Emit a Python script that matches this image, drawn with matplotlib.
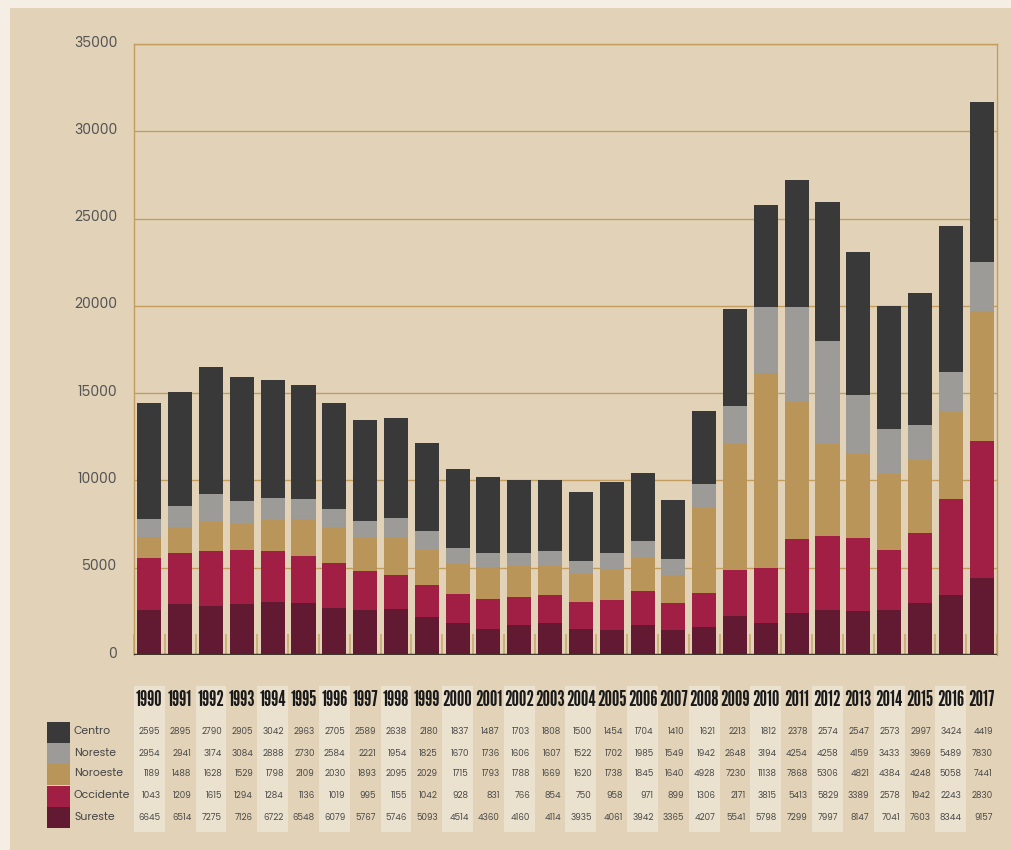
import numpy as np
import matplotlib
matplotlib.use("Agg")
import matplotlib.pyplot as plt
import matplotlib.transforms as mtransforms
from matplotlib.patches import Rectangle

# datos por año (filas tal como aparecen en la tabla)
years = list(range(1990, 2018))
centro = [2595, 2895, 2790, 2905, 3042, 2963, 2705, 2589, 2638, 2180, 1837, 1487, 1703, 1808,
          1500, 1454, 1704, 1410, 1621, 2213, 1812, 2378, 2574, 2547, 2573, 2997, 3424, 4419]
noreste = [2954, 2941, 3174, 3084, 2888, 2730, 2584, 2221, 1954, 1825, 1670, 1736, 1606, 1607,
           1522, 1702, 1985, 1549, 1942, 2648, 3194, 4254, 4258, 4159, 3433, 3969, 5489, 7830]
noroeste = [1189, 1488, 1628, 1529, 1798, 2109, 2030, 1893, 2095, 2029, 1715, 1793, 1788, 1669,
            1620, 1738, 1845, 1640, 4928, 7230, 11138, 7868, 5306, 4821, 4384, 4248, 5058, 7441]
occidente = [1043, 1209, 1615, 1294, 1284, 1136, 1019, 995, 1155, 1042, 928, 831, 766, 854,
             750, 958, 971, 899, 1306, 2171, 3815, 5413, 5829, 3389, 2578, 1942, 2243, 2830]
sureste = [6645, 6514, 7275, 7126, 6722, 6548, 6079, 5767, 5746, 5093, 4514, 4360, 4160, 4114,
           3935, 4061, 3942, 3365, 4207, 5541, 5798, 7299, 7997, 8147, 7041, 7603, 8344, 9157]

row_names = ["Centro", "Noreste", "Noroeste", "Occidente", "Sureste"]
rows = [centro, noreste, noroeste, occidente, sureste]
legend_colors = ["#3a3939", "#9d9b98", "#b9955a", "#a11f45", "#611a31"]
# en la gráfica las filas se apilan de abajo hacia arriba con los colores invertidos
stack_colors = legend_colors[::-1]

plt.rcParams['font.family'] = ['Poppins', 'Lato', 'DejaVu Sans']
year_font = ['League Gothic', 'Oswald', 'Barlow Condensed', 'DejaVu Sans']

W, H = 1012, 850
fig = plt.figure(figsize=(W / 100, H / 100), dpi=100)
fig.patch.set_facecolor("#f4eee4")

# fondo + tabla inferior, en coordenadas de píxel
tab = fig.add_axes([0, 0, 1, 1], zorder=0)
tab.set_xlim(0, W)
tab.set_ylim(H, 0)
tab.axis("off")
tab.add_patch(Rectangle((10, 8), W - 10, H - 8, facecolor="#e2d3b8", edgecolor="none"))

grid_c = "#c29d5f"
L, R, T, B = 134, 997, 44, 655
ax = fig.add_axes([L / W, 1 - B / H, (R - L) / W, (B - T) / H], zorder=1)
ax.set_facecolor("none")

x = np.arange(len(years))
bottom = np.zeros(len(years))
for vals, col in zip(rows, stack_colors):
    ax.bar(x, vals, width=0.78, bottom=bottom, color=col, zorder=3)
    bottom += np.array(vals)

ax.set_xlim(-0.5, len(years) - 0.5)
ax.set_ylim(0, 35000)
ax.set_yticks(range(0, 35001, 5000))
ax.set_yticklabels([str(v) for v in range(0, 35001, 5000)], fontsize=10, color="#555555")
ax.tick_params(axis="y", length=0, pad=12)
shift = mtransforms.ScaledTranslation(0, 3 / 100, fig.dpi_scale_trans)
for lbl in ax.get_yticklabels():
    lbl.set_transform(lbl.get_transform() + shift)
ax.yaxis.grid(True, color=grid_c, lw=1, zorder=1)
ax.set_xticks(np.arange(-0.5, len(years), 1))
ax.set_xticklabels([])
ax.tick_params(axis="x", direction="in", length=15, width=1.2, color="#c9aa6d")
for s in ["left", "right", "top"]:
    ax.spines[s].set_color(grid_c)
    ax.spines[s].set_linewidth(1)
ax.spines["bottom"].set_visible(False)
ax.axhline(0, color="#3f3528", lw=2.5, zorder=4)

colw = (R - L) / len(years)
for i, yr in enumerate(years):
    x0 = L + i * colw
    if i % 2 == 0:
        tab.add_patch(Rectangle((x0, 686), colw, 146, facecolor="#ebe1cf", edgecolor="none"))
    tab.text(x0 + colw / 2, 700, str(yr), ha="center", va="center", fontsize=15,
             fontweight="bold", family=year_font, color="#1a1a1a")
row_y = [732, 753, 774, 796, 817]
for vals, y in zip(rows, row_y):
    for i, v in enumerate(vals):
        tab.text(L + (i + 0.86) * colw, y, str(v), ha="right", va="center", fontsize=6.3,
                 color="#4a4a4a")
for name, col, y in zip(row_names, legend_colors, row_y):
    tab.add_patch(Rectangle((47, y - 10.5), 23, 21, facecolor=col, edgecolor="none"))
    tab.text(74, y, name, ha="left", va="center", fontsize=7.8, color="#444444")

fig.savefig("out.png", dpi=100, facecolor=fig.get_facecolor())
